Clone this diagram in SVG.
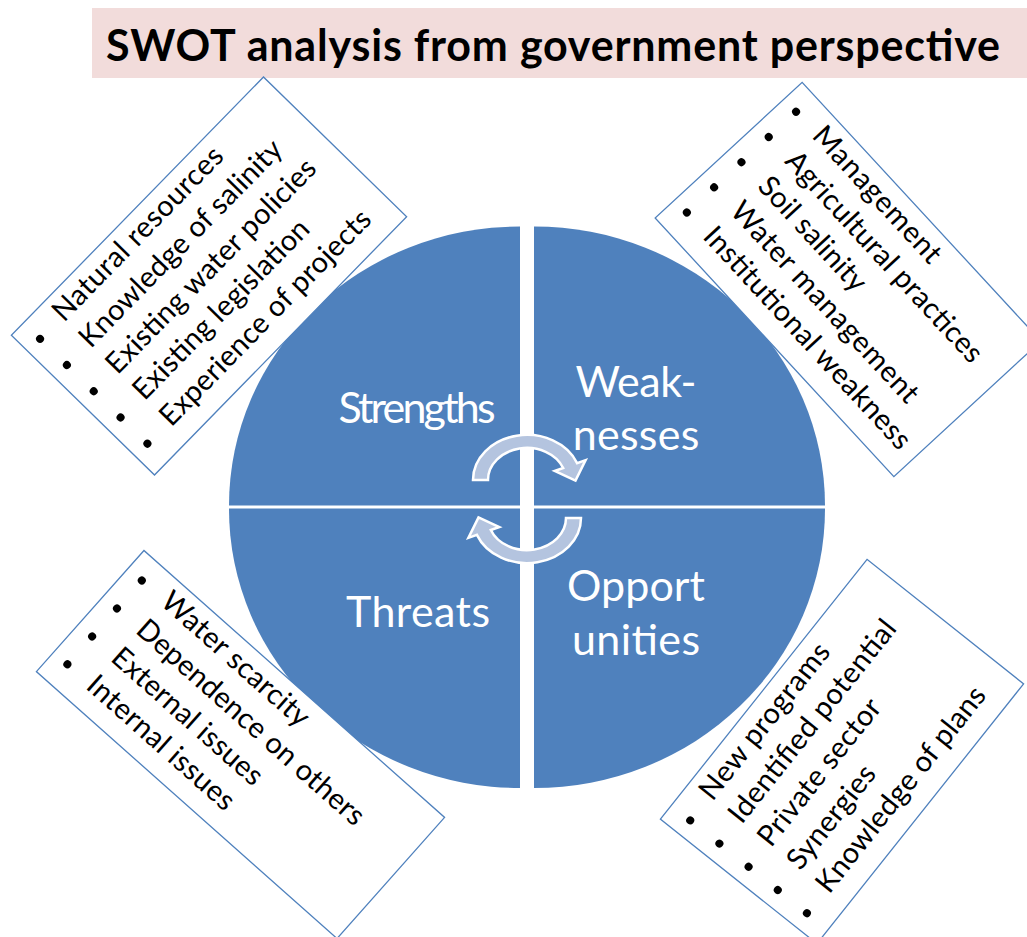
<svg xmlns="http://www.w3.org/2000/svg" xmlns:xlink="http://www.w3.org/1999/xlink" width="1027" height="937" viewBox="0 0 1027 937">
<style>
.q{fill:#4F81BD;}
.lbl{fill:#FFFFFF;font-family:Lato,'Liberation Sans',sans-serif;font-size:43px;text-anchor:middle;}
.box{fill:#FFFFFF;stroke:#4F81BD;stroke-width:1.3;}
.li{fill:#000000;font-family:Lato,'Liberation Sans',sans-serif;font-size:29px;}
.bul{fill:#000000;}
.cyc{fill:#B4C4DF;stroke:#FFFFFF;stroke-width:2.5;stroke-linejoin:miter;}
</style>
<defs>
<path id="cycArrow" d="M473,480 A54,45 0 0 1 577.1,463.1 L585.6,460.1 L575.5,480.6 L554.7,471 L563.2,468 A39,32 0 0 0 488,480 Z"/>
</defs>
<rect width="1027" height="937" fill="#FFFFFF"/>
<g id="title">
<rect x="92" y="8" width="935" height="70" fill="#F2DCDB"/>
<text x="106" y="61" font-family="Lato,'Liberation Sans',sans-serif" font-weight="bold" font-size="43" fill="#000000" textLength="894">SWOT analysis from government perspective</text>
</g>
<g id="strengths">
<path class="q" d="M520,505.5 H229 A291,279 0 0 1 520,226.5 Z"/>
<text class="lbl" x="417" y="423" font-size="36" textLength="157">Strengths</text>
</g>
<g id="weaknesses">
<path class="q" d="M534,505.5 V226.5 A291,279 0 0 1 825,505.5 Z"/>
<text class="lbl" x="636" y="396.5" textLength="121">Weak-</text>
<text class="lbl" x="636" y="450" textLength="126.6">nesses</text>
</g>
<g id="threats">
<path class="q" d="M520,508.5 V788 A291,279 0 0 1 229,508.5 Z"/>
<text class="lbl" x="418" y="627" textLength="144">Threats</text>
</g>
<g id="opportunities">
<path class="q" d="M534,508.5 H825 A291,279 0 0 1 534,788 Z"/>
<text class="lbl" x="636" y="601" textLength="138">Opport</text>
<text class="lbl" x="636" y="654.5" textLength="128">unities</text>
</g>
<g id="connectors">
<use xlink:href="#cycArrow" class="cyc"/>
<use xlink:href="#cycArrow" class="cyc" transform="rotate(180 527 499)"/>
</g>
<g id="strengths-list" transform="translate(209 276) rotate(-45.7)">
<rect class="box" x="-180.5" y="-100" width="361" height="200"/>
<circle class="bul" cx="-163" cy="-77" r="4"/>
<circle class="bul" cx="-163" cy="-39.5" r="4"/>
<circle class="bul" cx="-163" cy="-2" r="4"/>
<circle class="bul" cx="-163" cy="35.5" r="4"/>
<circle class="bul" cx="-163" cy="73" r="4"/>
<text class="li" x="-135" y="-71" textLength="231">Natural resources</text>
<text class="li" x="-135" y="-33.5" textLength="277">Knowledge of salinity</text>
<text class="li" x="-135" y="4" textLength="287">Existing water policies</text>
<text class="li" x="-135" y="41.5" textLength="239">Existing legislation</text>
<text class="li" x="-135" y="79" textLength="289">Experience of projects</text>
</g>
<g id="weaknesses-list" transform="translate(848 279.5) rotate(47.3)">
<rect class="box" x="-176" y="-100" width="352" height="200"/>
<circle class="bul" cx="-158.5" cy="-75.6" r="4"/>
<circle class="bul" cx="-158.5" cy="-38.4" r="4"/>
<circle class="bul" cx="-158.5" cy="-1.3" r="4"/>
<circle class="bul" cx="-158.5" cy="35.9" r="4"/>
<circle class="bul" cx="-158.5" cy="73" r="4"/>
<text class="li" x="-130" y="-69.6" textLength="175">Management</text>
<text class="li" x="-130" y="-32.4" textLength="276">Agricultural practices</text>
<text class="li" x="-130" y="4.7" textLength="145">Soil salinity</text>
<text class="li" x="-130" y="41.9" textLength="262">Water management</text>
<text class="li" x="-130" y="79" textLength="291">Institutional weakness</text>
</g>
<g id="threats-list" transform="translate(240.5 744.5) rotate(41.6)">
<rect class="box" x="-201" y="-81" width="402" height="162"/>
<circle class="bul" cx="-182.7" cy="-57.1" r="4"/>
<circle class="bul" cx="-182.7" cy="-19.7" r="4"/>
<circle class="bul" cx="-182.7" cy="17.7" r="4"/>
<circle class="bul" cx="-182.7" cy="55" r="4"/>
<text class="li" x="-154" y="-51.1" textLength="187.5">Water scarcity</text>
<text class="li" x="-154" y="-13.7" textLength="294">Dependence on others</text>
<text class="li" x="-154" y="23.7" textLength="191.6">External issues</text>
<text class="li" x="-154" y="61" textLength="187">Internal issues</text>
</g>
<g id="opportunities-list" transform="translate(842 751.5) rotate(-51.5)">
<rect class="box" x="-166" y="-100" width="332" height="200"/>
<circle class="bul" cx="-148.4" cy="-75.9" r="4"/>
<circle class="bul" cx="-148.4" cy="-38.6" r="4"/>
<circle class="bul" cx="-148.4" cy="-1.3" r="4"/>
<circle class="bul" cx="-148.4" cy="36" r="4"/>
<circle class="bul" cx="-148.4" cy="73.2" r="4"/>
<text class="li" x="-120" y="-69.9" textLength="191">New programs</text>
<text class="li" x="-120" y="-32.6" textLength="250.5">Identified potential</text>
<text class="li" x="-120" y="4.7" textLength="179.5">Private sector</text>
<text class="li" x="-120" y="42" textLength="124">Synergies</text>
<text class="li" x="-120" y="79.2" textLength="254">Knowledge of plans</text>
</g>
</svg>
